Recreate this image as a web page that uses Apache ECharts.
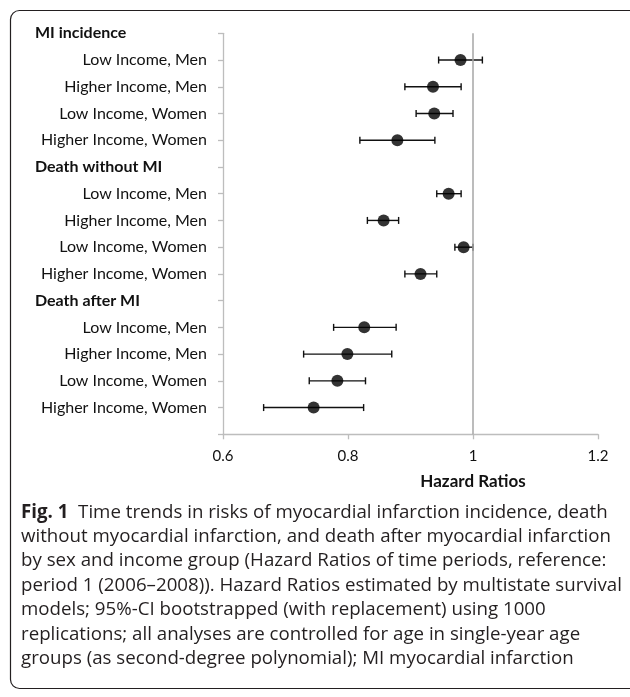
<!DOCTYPE html>
<html>
<head>
<meta charset="utf-8">
<script src="https://cdn.jsdelivr.net/npm/echarts@6/dist/echarts.min.js"></script>
<style>
  html,body{margin:0;padding:0;background:#fff;}
  #chart{width:630px;height:697px;}
</style>
</head>
<body>
<div id="chart"></div>
<script>
// rows from top to bottom; group headers have no values, last row is empty
var categories = ['MI incidence','Low Income, Men','Higher Income, Men','Low Income, Women','Higher Income, Women',
  'Death without MI','Low Income, Men','Higher Income, Men','Low Income, Women','Higher Income, Women',
  'Death after MI','Low Income, Men','Higher Income, Men','Low Income, Women','Higher Income, Women',''];
var headers = ['MI incidence','Death without MI','Death after MI'];
var hazard = [null,0.980,0.936,0.938,0.879, null,0.961,0.857,0.985,0.916, null,0.826,0.799,0.783,0.745, null];
var ciLow  = [null,0.945,0.891,0.909,0.819, null,0.942,0.831,0.971,0.891, null,0.777,0.729,0.738,0.665, null];
var ciHigh = [null,1.015,0.981,0.968,0.939, null,0.981,0.881,1.000,0.942, null,0.877,0.870,0.828,0.825, null];
var xMin = 0.6, xMax = 1.2, xStep = 0.2;
var refLine = 1;

var caption = '{b|Fig. 1}  Time trends in risks of myocardial infarction incidence, death\n'+
  'without myocardial infarction, and death after myocardial infarction\n'+
  'by sex and income group (Hazard Ratios of time periods, reference:\n'+
  'period 1 (2006\u20132008)). Hazard Ratios estimated by multistate survival\n'+
  'models; 95%-CI bootstrapped (with replacement) using 1000\n'+
  'replications; all analyses are controlled for age in single-year age\n'+
  'groups (as second-degree polynomial); MI myocardial infarction';

var chart = echarts.init(document.getElementById('chart'), null, {renderer:'canvas'});

var points = [], bars = [];
for (var i=0;i<categories.length;i++){
  if (hazard[i]==null) continue;
  points.push([hazard[i], i]);
  bars.push([ciLow[i], ciHigh[i], i]);
}

var option = {
  animation:false,
  backgroundColor:'#fff',
  title:{
    text: caption,
    left: 16, top: 495,
    textStyle:{
      fontFamily:'Open Sans', fontSize:18.7, fontWeight:'normal', color:'#231f20', lineHeight:24.4,
      rich:{ b:{fontFamily:'Open Sans', fontSize:18.7, fontWeight:'bold', color:'#231f20', lineHeight:24.4} }
    }
  },
  graphic:[
    {type:'rect', shape:{x:10.5, y:10.5, width:630, height:678, r:9}, style:{fill:'none', stroke:'#231f20', lineWidth:1.2}, silent:true},
    {type:'text', x:473, y:473, style:{text:'Hazard Ratios', font:'bold 17px Lato', fill:'#111', align:'center'}}
  ],
  grid:{left:223, right:32, top:33.3, bottom:262.7},
  xAxis:{
    type:'value', min:xMin, max:xMax, interval:xStep,
    axisLine:{show:true, lineStyle:{color:'#bdbdbd', width:1.3}},
    axisTick:{show:true, length:5, lineStyle:{color:'#bdbdbd', width:1.3}},
    axisLabel:{margin:14, fontFamily:'Lato', fontSize:15, color:'#111'},
    splitLine:{show:false}
  },
  yAxis:{
    type:'category', data:categories, inverse:true, boundaryGap:false,
    axisLine:{show:true, lineStyle:{color:'#bdbdbd', width:1.3}},
    axisTick:{show:true, length:5, alignWithLabel:true, lineStyle:{color:'#bdbdbd', width:1.3}},
    axisLabel:{
      margin:16, fontFamily:'Lato', fontSize:16, color:'#111', interval:0,
      formatter:function(v){
        if (headers.indexOf(v)>=0) return '{h|'+v+'}';
        return v;
      },
      rich:{ h:{width:172, align:'left', fontFamily:'Lato', fontSize:16, fontWeight:'bold', color:'#111'} }
    },
    splitLine:{show:false}
  },
  series:[
    {
      type:'custom',
      data:bars,
      encode:{x:[0,1], y:2},
      renderItem:function(params, api){
        var a = api.coord([api.value(0), api.value(2)]);
        var b = api.coord([api.value(1), api.value(2)]);
        var s = {stroke:'#111', lineWidth:1.4};
        return {type:'group', children:[
          {type:'line', shape:{x1:a[0], y1:a[1], x2:b[0], y2:b[1]}, style:s},
          {type:'line', shape:{x1:a[0], y1:a[1]-3.5, x2:a[0], y2:a[1]+3.5}, style:s},
          {type:'line', shape:{x1:b[0], y1:b[1]-3.5, x2:b[0], y2:b[1]+3.5}, style:s}
        ]};
      },
      z:2
    },
    {
      type:'scatter', data:points, symbol:'circle', symbolSize:12,
      itemStyle:{color:'#000'}, z:3,
      markLine:{
        silent:true, symbol:'none', label:{show:false},
        lineStyle:{color:'#a6a6a6', width:1.5, type:'solid'},
        data:[{xAxis:refLine}]
      }
    }
  ]
};
chart.setOption(option);
</script>
</body>
</html>
